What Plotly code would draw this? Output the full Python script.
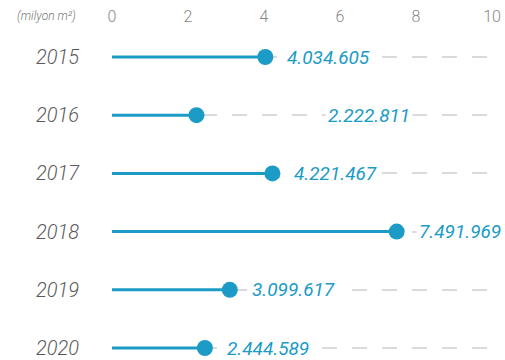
import plotly.graph_objects as go

# Annual figures, million m²
years = ["2015", "2016", "2017", "2018", "2019", "2020"]
values = [4.034605, 2.222811, 4.221467, 7.491969, 3.099617, 2.444589]
value_labels = ["4.034.605", "2.222.811", "4.221.467", "7.491.969", "3.099.617", "2.444.589"]
x_ticks = [0, 2, 4, 6, 8, 10]

BLUE = "#1b9bc6"
FONT = "Roboto"

rows = list(range(len(years)))

# stems from zero to each value
stem_x, stem_y = [], []
for r, v in zip(rows, values):
    stem_x += [0, v, None]
    stem_y += [r, r, None]

fig = go.Figure()
fig.add_trace(go.Scatter(
    x=stem_x, y=stem_y, mode="lines",
    line=dict(color=BLUE, width=3),
    hoverinfo="skip", showlegend=False, cliponaxis=False,
))
fig.add_trace(go.Scatter(
    x=values, y=rows, mode="markers",
    marker=dict(color=BLUE, size=16, line=dict(width=0)),
    showlegend=False, cliponaxis=False,
))

# value labels sit just right of the dot; 2016's is pushed further out
label_shift = {"2016": 129}
for r, (yr, v, t) in enumerate(zip(years, values, value_labels)):
    fig.add_annotation(
        x=v, y=r, xref="x", yref="y", text=t, showarrow=False,
        xanchor="left", yanchor="middle", xshift=label_shift.get(yr, 19),
        bgcolor="white", borderpad=2,
        font=dict(family=FONT, size=19, color=BLUE, style="italic"),
    )

row_px = 58.2
top_px = 28
plot_w = 505 - 112 - 13
plot_h = 360 - top_px

# unit note in the top-left corner, to the left of the value axis
fig.add_annotation(
    xref="paper", yref="paper", x=(78 - 112) / plot_w, y=1 + (top_px - 16) / plot_h,
    xanchor="right", yanchor="middle", text="(milyon m²)", showarrow=False,
    font=dict(family=FONT, size=12, color="#777777", style="italic", weight=300),
)

fig.update_layout(
    width=505, height=360,
    margin=dict(l=112, r=13, t=top_px, b=0),
    paper_bgcolor="white", plot_bgcolor="white",
    xaxis=dict(
        range=[0, 10], side="top", tickvals=x_ticks, ticktext=[str(t) for t in x_ticks],
        showgrid=False, zeroline=False, showline=False, ticks="",
        tickfont=dict(family=FONT, size=16, color="#888888", weight=300),
        ticklabelstandoff=2,
    ),
    yaxis=dict(
        range=[(360 - 57) / row_px, -(57 - top_px) / row_px],
        tickvals=rows, ticktext=years,
        showgrid=True, gridcolor="#dadada", gridwidth=2, griddash="15px,15px",
        zeroline=False, showline=False, ticks="",
        tickfont=dict(family=FONT, size=20, color="#5a5a5a", style="italic", weight=300),
        ticklabelstandoff=32,
    ),
)

fig.write_html("out.html")
